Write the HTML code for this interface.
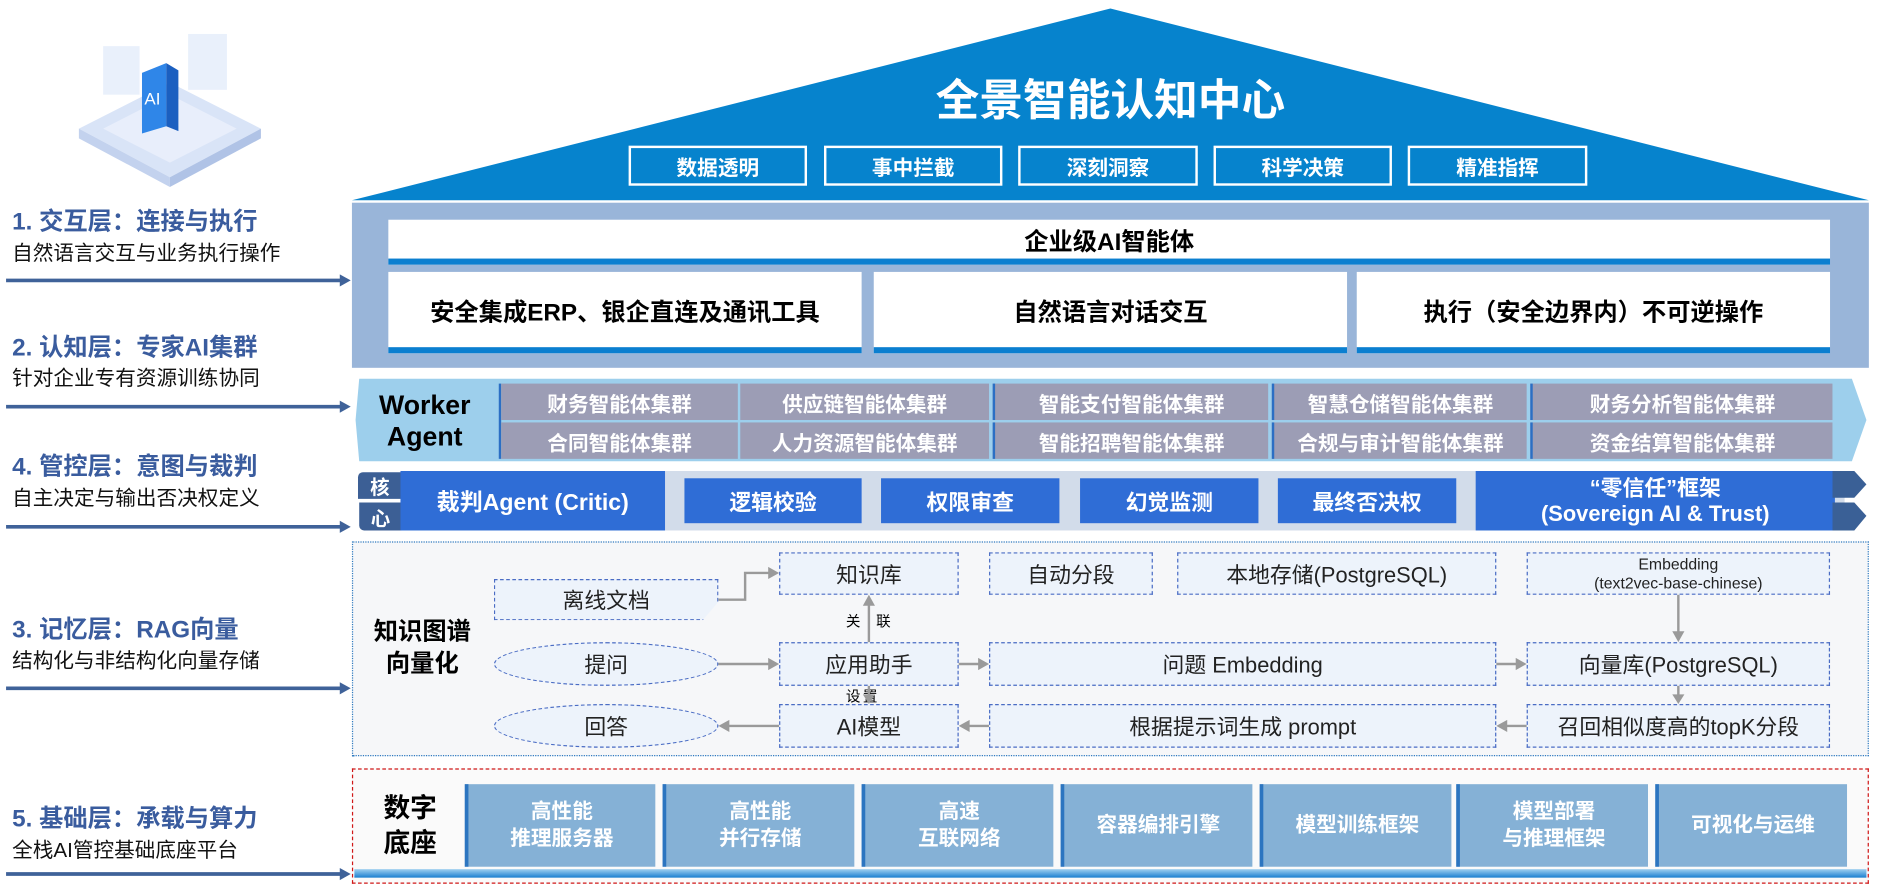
<!DOCTYPE html>
<html><head><meta charset="utf-8">
<style>
*{margin:0;padding:0;box-sizing:border-box}
html,body{width:1881px;height:891px;overflow:hidden;background:#fff}
#w{position:absolute;left:0;top:0;width:1550px;height:734px;transform-origin:0 0;transform:scale(1.21355,1.2139);font-family:"Liberation Sans","Noto Sans CJK SC",sans-serif}
.a{position:absolute;display:flex;align-items:center;justify-content:center;text-align:center}
.b{font-weight:bold}
.lt{position:absolute;left:10px;font-size:20px;font-weight:bold;color:#3a5c9e;white-space:nowrap}
.ls{position:absolute;left:10px;font-size:17px;color:#111;white-space:nowrap}
.top{border:2.5px solid #fff;color:#fff;font-weight:bold;font-size:17px;background:#0683cd}
.w3{background:#fff;border-bottom:5px solid #0b7fd0;font-weight:bold;font-size:20px;color:#000}
.g{background:#9c9db5;color:#fff;font-weight:bold;font-size:17px}
.cb{background:#2f6dd6;color:#fff;font-weight:bold;font-size:18px}
.n{border:1.6px dashed #4a6cc4;background:#edf3fb;font-size:18px;color:#222}
.f{background:#85b1d6;border-left:3px solid #2c75c0;color:#fff;font-weight:bold;font-size:17px;line-height:1.3}
</style></head><body><div id="w">
<!-- icon -->
<svg style="position:absolute;left:55px;top:18px" width="170" height="140">
<polygon points="85,50 160,88 85,128 10,88" fill="#d9e4f7"/>
<polygon points="10,88 85,128 85,136 10,96" fill="#c3d2ee"/>
<polygon points="160,88 85,128 85,136 160,96" fill="#b0c3e6"/>
<polygon points="85,60 140,88 85,116 30,88" fill="#e8eefb"/>
<rect x="30" y="20" width="30" height="40" fill="#e3ecfa" opacity=".8"/>
<rect x="100" y="10" width="32" height="46" fill="#e3ecfa" opacity=".8"/>
<polygon points="62,42 82,34 82,86 62,92" fill="#2f86e8"/>
<polygon points="82,34 92,40 92,90 82,86" fill="#1b5fc0"/>
<text x="64" y="68" fill="#fff" font-size="14">AI</text>
</svg>
<!-- left labels -->
<div class="lt" style="top:166px">1. 交互层：连接与执行</div>
<div class="ls" style="top:194px">自然语言交互与业务执行操作</div>
<div class="lt" style="top:270px">2. 认知层：专家AI集群</div>
<div class="ls" style="top:297px">针对企业专有资源训练协同</div>
<div class="lt" style="top:368px">4. 管控层：意图与裁判</div>
<div class="ls" style="top:396px">自主决定与输出否决权定义</div>
<div class="lt" style="top:502px">3. 记忆层：RAG向量</div>
<div class="ls" style="top:530px">结构化与非结构化向量存储</div>
<div class="lt" style="top:658px">5. 基础层：承载与算力</div>
<div class="ls" style="top:686px">全栈AI管控基础底座平台</div>
<svg style="position:absolute;left:0;top:0" width="300" height="734">
<g stroke="#3f6299" stroke-width="3" fill="#3f6299">
<line x1="5" y1="231" x2="282" y2="231"/><polygon points="289,231 280,226 280,236" stroke="none"/>
<line x1="5" y1="335" x2="282" y2="335"/><polygon points="289,335 280,330 280,340" stroke="none"/>
<line x1="5" y1="434" x2="282" y2="434"/><polygon points="289,434 280,429 280,439" stroke="none"/>
<line x1="5" y1="567" x2="282" y2="567"/><polygon points="289,567 280,562 280,572" stroke="none"/>
<line x1="5" y1="720" x2="282" y2="720"/><polygon points="289,720 280,715 280,725" stroke="none"/>
</g></svg>
<!-- roof -->
<svg style="position:absolute;left:0;top:0" width="1550" height="170"><polygon points="915,7 1540,165 290,165" fill="#0683cd"/></svg>
<div class="a b" style="left:615px;top:55px;width:600px;height:50px;color:#fff;font-size:36px">全景智能认知中心</div>
<div class="a top" style="left:518px;top:120px;width:147px;height:33px">数据透明</div>
<div class="a top" style="left:679px;top:120px;width:147px;height:33px">事中拦截</div>
<div class="a top" style="left:839px;top:120px;width:148px;height:33px">深刻洞察</div>
<div class="a top" style="left:1000px;top:120px;width:147px;height:33px">科学决策</div>
<div class="a top" style="left:1160px;top:120px;width:148px;height:33px">精准指挥</div>
<!-- layer 1 -->
<div style="position:absolute;left:290px;top:167px;width:1250px;height:136px;background:#99b5d9"></div>
<div class="a w3" style="left:320px;top:181px;width:1188px;height:37px">企业级AI智能体</div>
<div class="a w3" style="left:320px;top:224px;width:390px;height:67px">安全集成ERP、银企直连及通讯工具</div>
<div class="a w3" style="left:720px;top:224px;width:390px;height:67px">自然语言对话交互</div>
<div class="a w3" style="left:1118px;top:224px;width:390px;height:67px">执行（安全边界内）不可逆操作</div>
<!-- worker -->
<svg style="position:absolute;left:0;top:0" width="1550" height="390"><polygon points="296,312 1526,312 1538,346 1526,380 296,380 293,346" fill="#9dcfec"/></svg>
<div class="a b" style="left:297px;top:316px;width:106px;height:62px;font-size:22px;line-height:1.2;color:#000">Worker<br>Agent</div>
<div style="position:absolute;left:411px;top:316px;width:2px;height:62px;background:#2b6fc4"></div>
<div class="a g" style="left:413px;top:316px;width:195px;height:30px">财务智能体集群</div>
<div class="a g" style="left:413px;top:348px;width:195px;height:30px">合同智能体集群</div>
<div class="a g" style="left:610px;top:316px;width:205px;height:30px">供应链智能体集群</div>
<div class="a g" style="left:610px;top:348px;width:205px;height:30px">人力资源智能体集群</div>
<div class="a g" style="left:818px;top:316px;width:227px;height:30px;border-left:2px solid #2b6fc4">智能支付智能体集群</div>
<div class="a g" style="left:818px;top:348px;width:227px;height:30px;border-left:2px solid #2b6fc4">智能招聘智能体集群</div>
<div class="a g" style="left:1048px;top:316px;width:210px;height:30px;border-left:2px solid #2b6fc4">智慧仓储智能体集群</div>
<div class="a g" style="left:1048px;top:348px;width:210px;height:30px;border-left:2px solid #2b6fc4">合规与审计智能体集群</div>
<div class="a g" style="left:1261px;top:316px;width:249px;height:30px;border-left:2px solid #2b6fc4">财务分析智能体集群</div>
<div class="a g" style="left:1261px;top:348px;width:249px;height:30px;border-left:2px solid #2b6fc4">资金结算智能体集群</div>
<!-- core -->
<div style="position:absolute;left:330px;top:388px;width:1190px;height:49px;background:#d2dcea"></div>
<div class="a b" style="left:295px;top:389px;width:36px;height:22px;background:#3c5f95;color:#fff;font-size:16px;border-radius:4px 0 0 0">核</div>
<div class="a b" style="left:296px;top:414px;width:35px;height:23px;background:#3c5f95;color:#fff;font-size:16px;border-radius:0 0 0 4px">心</div>
<div class="a cb" style="left:330px;top:388px;width:218px;height:49px;font-size:19px">裁判Agent (Critic)</div>
<div class="a cb" style="left:564px;top:394px;width:146px;height:37px">逻辑校验</div>
<div class="a cb" style="left:726px;top:394px;width:147px;height:37px">权限审查</div>
<div class="a cb" style="left:890px;top:394px;width:147px;height:37px">幻觉监测</div>
<div class="a cb" style="left:1053px;top:394px;width:147px;height:37px">最终否决权</div>
<div class="a cb" style="left:1216px;top:388px;width:296px;height:49px;line-height:1.15;font-size:18px">“零信任”框架<br>(Sovereign AI &amp; Trust)</div>
<svg style="position:absolute;left:1510px;top:388px" width="32" height="50"><polygon points="0,0 18,0 28,11 18,22 0,22" fill="#3a6096"/><polygon points="0,26 18,26 28,37 18,49 0,49" fill="#3a6096"/></svg>
<!-- memory -->
<div style="position:absolute;left:290px;top:446px;width:1250px;height:177px;border:1.5px dotted #2f7ac0;background:#f6f7f9"></div>
<div class="a b" style="left:298px;top:504px;width:100px;height:60px;font-size:20px;line-height:1.3;color:#000">知识图谱<br>向量化</div>
<div class="a n" style="left:407px;top:477px;width:185px;height:34px;border-radius:0 0 0 0;clip-path:polygon(0 0,100% 0,100% 55%,93% 100%,0 100%)">离线文档</div>
<div class="a n" style="left:642px;top:455px;width:148px;height:35px">知识库</div>
<div class="a n" style="left:815px;top:455px;width:135px;height:35px">自动分段</div>
<div class="a n" style="left:970px;top:455px;width:263px;height:35px">本地存储(PostgreSQL)</div>
<div class="a n" style="left:1258px;top:455px;width:250px;height:35px;font-size:13px;line-height:1.2">Embedding<br>(text2vec-base-chinese)</div>
<div class="a n" style="left:407px;top:529px;width:185px;height:36px;border-radius:50%">提问</div>
<div class="a n" style="left:642px;top:529px;width:148px;height:36px">应用助手</div>
<div class="a n" style="left:815px;top:529px;width:418px;height:36px">问题 Embedding</div>
<div class="a n" style="left:1258px;top:529px;width:250px;height:36px">向量库(PostgreSQL)</div>
<div class="a n" style="left:407px;top:580px;width:185px;height:36px;border-radius:50%">回答</div>
<div class="a n" style="left:642px;top:580px;width:148px;height:36px">AI模型</div>
<div class="a n" style="left:815px;top:580px;width:418px;height:36px">根据提示词生成 prompt</div>
<div class="a n" style="left:1258px;top:580px;width:250px;height:36px">召回相似度高的topK分段</div>
<div style="position:absolute;left:697px;top:503px;font-size:12px">关</div>
<div style="position:absolute;left:722px;top:503px;font-size:12px">联</div>
<div style="position:absolute;left:697px;top:565px;font-size:12px">设</div>
<div style="position:absolute;left:711px;top:565px;font-size:12px">置</div>
<svg style="position:absolute;left:0;top:0" width="1550" height="640">
<g stroke="#9a9a9a" stroke-width="2" fill="none">
<polyline points="592,494 614,494 614,472 634,472"/>
<line x1="716" y1="529" x2="716" y2="498"/>
<line x1="592" y1="547" x2="634" y2="547"/>
<line x1="790" y1="547" x2="808" y2="547"/>
<line x1="1233" y1="547" x2="1251" y2="547"/>
<line x1="1383" y1="490" x2="1383" y2="522"/>
<line x1="1383" y1="565" x2="1383" y2="574"/>
<line x1="716" y1="565" x2="716" y2="574"/>
<line x1="1258" y1="598" x2="1241" y2="598"/>
<line x1="815" y1="598" x2="798" y2="598"/>
<line x1="642" y1="598" x2="600" y2="598"/>
</g>
<g fill="#9a9a9a">
<polygon points="642,472 633,467 633,477"/>
<polygon points="716,490 711,499 721,499"/>
<polygon points="642,547 633,542 633,552"/>
<polygon points="815,547 806,542 806,552"/>
<polygon points="1258,547 1249,542 1249,552"/>
<polygon points="1383,529 1378,520 1388,520"/>
<polygon points="1383,580 1378,572 1388,572"/>
<polygon points="716,580 711,572 721,572"/>
<polygon points="1233,598 1242,593 1242,603"/>
<polygon points="790,598 799,593 799,603"/>
<polygon points="592,598 601,593 601,603"/>
</g></svg>
<!-- base -->
<div style="position:absolute;left:290px;top:633px;width:1250px;height:95px;border:1.5px dashed #d01818;background:#fafafa"></div>
<div style="position:absolute;left:292px;top:716px;width:1246px;height:7px;background:linear-gradient(#9fd0f0,#1a7fd0)"></div>
<div class="a b" style="left:298px;top:650px;width:80px;height:62px;font-size:22px;line-height:1.3;color:#000">数字<br>底座</div>
<div class="a f" style="left:383px;top:646px;width:157px;height:68px">高性能<br>推理服务器</div>
<div class="a f" style="left:546px;top:646px;width:158px;height:68px">高性能<br>并行存储</div>
<div class="a f" style="left:710px;top:646px;width:158px;height:68px">高速<br>互联网络</div>
<div class="a f" style="left:874px;top:646px;width:158px;height:68px">容器编排引擎</div>
<div class="a f" style="left:1038px;top:646px;width:158px;height:68px">模型训练框架</div>
<div class="a f" style="left:1200px;top:646px;width:158px;height:68px">模型部署<br>与推理框架</div>
<div class="a f" style="left:1364px;top:646px;width:158px;height:68px">可视化与运维</div>
</div></body></html>
